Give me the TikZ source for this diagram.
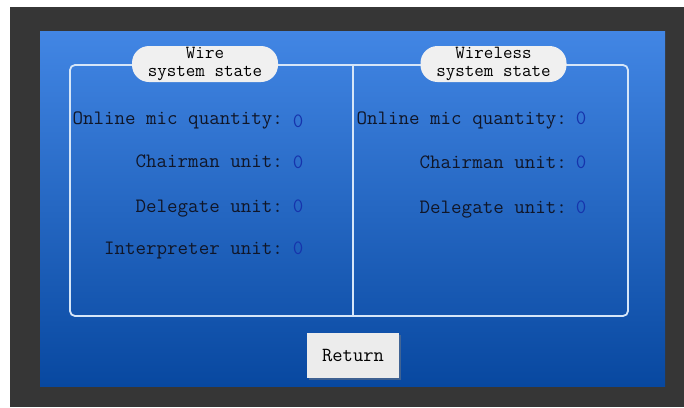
\documentclass[tikz,border=0pt]{standalone}
\usepackage{fontspec}
\usetikzlibrary{shadows}
\definecolor{framegray}{RGB}{54,54,54}
\definecolor{screentop}{RGB}{66,134,228}
\definecolor{screenbot}{RGB}{8,72,160}
\definecolor{panelline}{RGB}{214,230,248}
\definecolor{pillfill}{RGB}{240,240,240}
\definecolor{labeltext}{RGB}{16,22,40}
\definecolor{valuetext}{RGB}{22,52,172}
\begin{document}
\begin{tikzpicture}[x=1pt,y=-1pt,
  lbl/.style={anchor=base east,inner sep=0pt,text=labeltext,font=\ttfamily\fontsize{20.4}{22}\selectfont},
  val/.style={anchor=base,inner sep=0pt,text=valuetext,font=\ttfamily\fontsize{20.4}{22}\selectfont},
  pill/.style={fill=pillfill,rounded corners=17pt,minimum width=146pt,minimum height=36pt,inner sep=0pt,align=center,font=\ttfamily\fontsize{18.5}{17.5}\selectfont},
  panel/.style={draw=panelline,line width=1.8pt}]
\useasboundingbox (0,0) rectangle (684,407);
% frame and screen
\fill[framegray] (10,7) rectangle (684,407);
\shade[top color=screentop,bottom color=screenbot] (40,31) rectangle (665,386);
% panel
\draw[panel,rounded corners=5pt] (70,65) rectangle (628,316);
\draw[panel] (353,65) -- (353,316);
\node[pill] (wire) at (205,64) {Wire\\system state};
\node[pill] (wireless) at (493.5,64) {Wireless\\system state};
% wire side
\node[lbl] (wonline) at (283,124) {Online mic quantity:};
\node[val] (wonlinev) at (298,127) {0};
\node[lbl] (wchair) at (283,167) {Chairman unit:};
\node[val] (wchairv) at (298,168) {0};
\node[lbl] (wdeleg) at (283,212) {Delegate unit:};
\node[val] (wdelegv) at (298,212) {0};
\node[lbl] (winterp) at (283,254) {Interpreter unit:};
\node[val] (winterpv) at (298,254) {0};
% wireless side
\node[lbl] (xonline) at (567,124) {Online mic quantity:};
\node[val] (xonlinev) at (581,124) {0};
\node[lbl] (xchair) at (567,168) {Chairman unit:};
\node[val] (xchairv) at (581,168) {0};
\node[lbl] (xdeleg) at (567,213) {Delegate unit:};
\node[val] (xdelegv) at (581,213) {0};
% button
\node[fill={rgb,255:red,236;green,236;blue,236},minimum width=92pt,minimum height=45pt,
  drop shadow={shadow xshift=1.5pt,shadow yshift=-1.5pt,opacity=0.45},
  font=\ttfamily\fontsize{20}{22}\selectfont] (ret) at (353,355.5) {Return};
\end{tikzpicture}
\end{document}
